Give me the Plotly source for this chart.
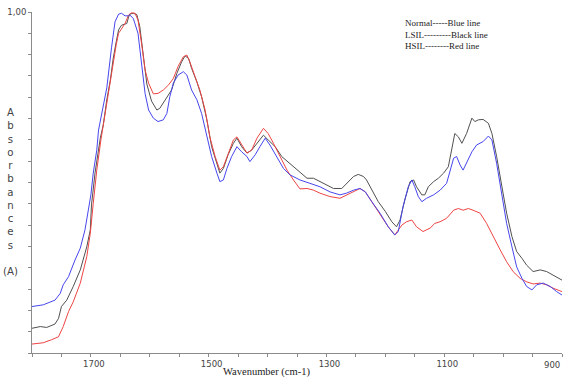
import plotly.graph_objects as go

# Wavenumber (cm-1) and absorbance values
blue_wn = [1800, 1781, 1761, 1752, 1747, 1738, 1727, 1718, 1710, 1704, 1700, 1696, 1690, 1687, 1679, 1673,
           1665, 1659, 1653, 1648, 1642, 1636, 1634, 1628, 1620, 1614, 1608, 1602, 1594, 1586, 1577, 1571,
           1566, 1560, 1552, 1543, 1537, 1529, 1520, 1512, 1503, 1495, 1486, 1481, 1475, 1469, 1461, 1452,
           1444, 1435, 1430, 1421, 1413, 1404, 1396, 1384, 1373, 1362, 1345, 1328, 1311, 1294, 1277, 1266,
           1254, 1243, 1234, 1223, 1209, 1195, 1184, 1178, 1170, 1161, 1155, 1150, 1144, 1138, 1130, 1118,
           1107, 1096, 1090, 1084, 1079, 1073, 1068, 1062, 1053, 1045, 1034, 1025, 1019, 1011, 1002, 994,
           985, 977, 968, 960, 951, 943, 932, 920, 909, 900]
blue_abs = [0.309, 0.313, 0.324, 0.340, 0.360, 0.379, 0.418, 0.446, 0.489, 0.535, 0.571, 0.622, 0.676, 0.723, 0.775, 0.822,
            0.916, 0.977, 0.995, 0.997, 0.991, 0.991, 0.993, 0.985, 0.950, 0.872, 0.809, 0.770, 0.751, 0.743, 0.747, 0.762,
            0.801, 0.833, 0.852, 0.860, 0.852, 0.817, 0.794, 0.762, 0.707, 0.661, 0.622, 0.602, 0.606, 0.633, 0.661, 0.684,
            0.672, 0.661, 0.649, 0.665, 0.684, 0.704, 0.688, 0.661, 0.633, 0.618, 0.606, 0.598, 0.590, 0.578, 0.571, 0.575,
            0.582, 0.586, 0.578, 0.555, 0.528, 0.496, 0.477, 0.485, 0.543, 0.590, 0.606, 0.590, 0.567, 0.555, 0.563, 0.571,
            0.582, 0.598, 0.629, 0.657, 0.661, 0.641, 0.629, 0.645, 0.672, 0.688, 0.696, 0.709, 0.700, 0.645, 0.567, 0.504,
            0.449, 0.402, 0.375, 0.356, 0.348, 0.360, 0.364, 0.356, 0.344, 0.336]

black_wn = [1800, 1786, 1775, 1761, 1755, 1750, 1741, 1730, 1718, 1707, 1701, 1699, 1693, 1684, 1679, 1673,
            1667, 1662, 1657, 1653, 1648, 1639, 1636, 1634, 1628, 1622, 1617, 1611, 1605, 1597, 1588, 1583,
            1577, 1571, 1563, 1554, 1546, 1540, 1534, 1529, 1520, 1512, 1503, 1495, 1486, 1481, 1475, 1467,
            1458, 1452, 1444, 1435, 1427, 1416, 1407, 1399, 1387, 1376, 1362, 1345, 1333, 1322, 1311, 1300,
            1288, 1274, 1266, 1254, 1246, 1237, 1232, 1223, 1212, 1200, 1189, 1181, 1175, 1167, 1158, 1152,
            1147, 1138, 1133, 1127, 1118, 1110, 1101, 1093, 1087, 1082, 1076, 1070, 1062, 1053, 1048, 1042,
            1034, 1025, 1019, 1011, 1002, 994, 985, 977, 968, 960, 949, 937, 926, 915, 900]
black_abs = [0.258, 0.262, 0.260, 0.268, 0.281, 0.309, 0.324, 0.356, 0.395, 0.449, 0.489, 0.547, 0.622, 0.704, 0.735, 0.794,
             0.840, 0.892, 0.930, 0.958, 0.969, 0.973, 0.988, 0.995, 0.997, 0.994, 0.966, 0.892, 0.831, 0.791, 0.770, 0.774,
             0.786, 0.801, 0.817, 0.856, 0.883, 0.897, 0.891, 0.868, 0.836, 0.801, 0.747, 0.684, 0.645, 0.622, 0.633, 0.665,
             0.692, 0.704, 0.684, 0.669, 0.676, 0.696, 0.711, 0.700, 0.684, 0.661, 0.645, 0.625, 0.610, 0.610, 0.602, 0.594,
             0.586, 0.586, 0.598, 0.614, 0.619, 0.614, 0.606, 0.582, 0.555, 0.532, 0.508, 0.496, 0.512, 0.559, 0.602, 0.606,
             0.590, 0.571, 0.571, 0.590, 0.602, 0.610, 0.622, 0.637, 0.684, 0.715, 0.707, 0.692, 0.715, 0.751, 0.743, 0.747,
             0.748, 0.739, 0.715, 0.661, 0.590, 0.528, 0.473, 0.438, 0.422, 0.406, 0.391, 0.395, 0.391, 0.383, 0.371]

red_wn = [1800, 1781, 1767, 1755, 1747, 1738, 1730, 1718, 1707, 1701, 1696, 1690, 1683, 1678, 1673, 1667,
          1662, 1657, 1653, 1648, 1642, 1636, 1631, 1625, 1620, 1614, 1608, 1602, 1594, 1586, 1577, 1568,
          1560, 1552, 1543, 1537, 1532, 1523, 1515, 1506, 1498, 1489, 1481, 1475, 1467, 1458, 1452, 1444,
          1435, 1427, 1418, 1407, 1399, 1390, 1379, 1367, 1356, 1345, 1333, 1322, 1311, 1294, 1277, 1266,
          1254, 1243, 1234, 1223, 1209, 1195, 1184, 1178, 1172, 1164, 1155, 1147, 1136, 1124, 1116, 1107,
          1096, 1084, 1076, 1068, 1059, 1051, 1039, 1028, 1017, 1005, 994, 983, 971, 960, 949, 937,
          926, 915, 900]
red_abs = [0.221, 0.224, 0.231, 0.238, 0.262, 0.297, 0.320, 0.364, 0.426, 0.481, 0.551, 0.629, 0.700, 0.742, 0.789, 0.836,
           0.887, 0.923, 0.950, 0.962, 0.973, 0.993, 0.998, 0.997, 0.981, 0.927, 0.864, 0.833, 0.808, 0.809, 0.817, 0.829,
           0.844, 0.872, 0.895, 0.899, 0.883, 0.848, 0.817, 0.770, 0.707, 0.661, 0.629, 0.637, 0.669, 0.700, 0.707, 0.688,
           0.669, 0.676, 0.704, 0.727, 0.715, 0.692, 0.661, 0.629, 0.606, 0.585, 0.586, 0.582, 0.575, 0.567, 0.563, 0.571,
           0.578, 0.586, 0.578, 0.555, 0.528, 0.496, 0.477, 0.489, 0.500, 0.508, 0.512, 0.496, 0.485, 0.493, 0.504, 0.508,
           0.516, 0.535, 0.539, 0.535, 0.539, 0.535, 0.528, 0.504, 0.473, 0.442, 0.414, 0.391, 0.375, 0.367, 0.362, 0.364,
           0.360, 0.352, 0.344]

x_tick_vals = list(range(1800, 899, -50))
x_tick_labels = {1700: "1700", 1500: "1500", 1300: "1300", 1100: "1100"}
y_tick_vals = [round(0.2 + 0.05 * i, 2) for i in range(17)]
y_tick_labels = {1.0: "1,00"}

legend_lines = ["Normal-----Blue line", "LSIL---------Black line", "HSIL--------Red line"]
y_title_letters = list("Absorbances")

fig = go.Figure()
fig.add_trace(go.Scatter(x=black_wn, y=black_abs, mode="lines",
                         line=dict(color="#505050", width=1), showlegend=False))
fig.add_trace(go.Scatter(x=red_wn, y=red_abs, mode="lines",
                         line=dict(color="#ee4444", width=1), showlegend=False))
fig.add_trace(go.Scatter(x=blue_wn, y=blue_abs, mode="lines",
                         line=dict(color="#4646ee", width=1), showlegend=False))

axis_col = "#8a8a8a"
fig.update_xaxes(range=[1800, 900], showgrid=False, zeroline=False,
                 showline=True, linecolor=axis_col, linewidth=1,
                 ticks="outside", ticklen=3, tickcolor=axis_col, tickwidth=1,
                 tickvals=x_tick_vals,
                 ticktext=[x_tick_labels.get(v, "") for v in x_tick_vals],
                 ticklabelshift=-3,
                 tickfont=dict(family="DejaVu Sans", size=8.5, color="#444"))
fig.update_yaxes(range=[0.2, 1.0], showgrid=False, zeroline=False,
                 showline=True, linecolor=axis_col, linewidth=1,
                 ticks="outside", ticklen=3, tickcolor=axis_col, tickwidth=1,
                 tickvals=y_tick_vals,
                 ticktext=[y_tick_labels.get(v, "") for v in y_tick_vals],
                 tickfont=dict(family="DejaVu Sans", size=8.5, color="#444"))

fig.add_annotation(x=900, y=0, xref="x", yref="paper", text="900", showarrow=False,
                   xanchor="center", yanchor="top", xshift=-10, yshift=-5,
                   font=dict(family="DejaVu Sans", size=8.5, color="#444"))
fig.add_annotation(x=0.443, y=0, xref="paper", yref="paper", text="Wavenumber (cm-1)",
                   showarrow=False, xanchor="center", yanchor="top", yshift=-11,
                   font=dict(family="Liberation Serif", size=10.5, color="#222"))
fig.add_annotation(x=1170, y=1, xref="x", yref="paper", text="<br>".join(legend_lines),
                   showarrow=False, xanchor="left", yanchor="top", yshift=-4, align="left",
                   font=dict(family="Liberation Serif", size=9, color="#222"))
fig.add_annotation(x=0, y=0.472, xref="paper", yref="paper",
                   text="<br>".join(y_title_letters) + "<br><br>(A)",
                   showarrow=False, xanchor="center", yanchor="middle", xshift=-22, align="center",
                   font=dict(family="DejaVu Sans", size=10.2, color="#444"))

fig.update_layout(width=566, height=377, paper_bgcolor="white", plot_bgcolor="white",
                  margin=dict(l=32, r=4, t=12, b=24))
fig.write_html("out.html")
